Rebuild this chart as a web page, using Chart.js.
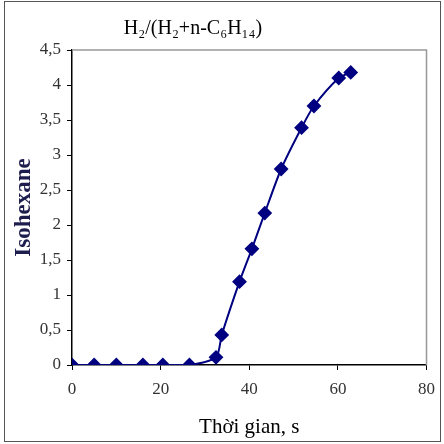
<!DOCTYPE html>
<html lang="vi">
<head>
    <meta charset="UTF-8">
    <title>Isohexane</title>
    <script src="https://cdn.jsdelivr.net/npm/chart.js"></script>
    <style>
        html, body { margin: 0; padding: 0; background: #fff; }
        #wrap { width: 444px; height: 444px; }
    </style>
</head>
<body>
    <div id="wrap"><canvas id="chart" width="444" height="444"></canvas></div>

    <script>
        // data
        const timeS = [0, 5, 10, 16, 20.5, 26.5, 32.5, 33.8, 37.8, 40.6, 43.5, 47.2, 51.8, 54.6, 60.2, 62.9];
        const isohexane = [0, 0, 0, 0, 0, 0, 0.11, 0.43, 1.19, 1.66, 2.17, 2.8, 3.39, 3.7, 4.1, 4.18];
        const xTicks = [0, 20, 40, 60, 80];
        const yTicks = [0, 0.5, 1, 1.5, 2, 2.5, 3, 3.5, 4, 4.5];

        const chartTitle = 'H₂/(H₂+n-C₆H₁₄)';
        const serif = '"Liberation Serif", "Times New Roman", serif';

        // frame around the image, plot box and title
        const decor = {
            id: 'decor',
            beforeDraw(chart) {
                const ctx = chart.ctx;
                ctx.save();
                ctx.fillStyle = '#fff';
                ctx.fillRect(0, 0, chart.width, chart.height);
                ctx.strokeStyle = '#555';
                ctx.lineWidth = 1;
                ctx.strokeRect(4.5, 1.5, 436, 440);
                ctx.restore();
            },
            afterDatasetsDraw(chart) {
                const ctx = chart.ctx;
                const a = chart.chartArea;
                ctx.save();
                ctx.strokeStyle = '#999';
                ctx.lineWidth = 1.5;
                ctx.beginPath();
                ctx.moveTo(a.left, a.top);
                ctx.lineTo(a.right, a.top);
                ctx.lineTo(a.right, a.bottom);
                ctx.stroke();
                ctx.fillStyle = '#000';
                ctx.font = '20px ' + serif;
                ctx.textAlign = 'center';
                ctx.textBaseline = 'middle';
                ctx.fillText(chartTitle, 193, 29);
                ctx.restore();
            }
        };

        new Chart(document.getElementById('chart'), {
            type: 'line',
            data: {
                datasets: [{
                    data: timeS.map((t, i) => ({ x: t, y: isohexane[i] })),
                    borderColor: '#000080',
                    backgroundColor: '#000080',
                    borderWidth: 2,
                    tension: 0.25,
                    pointStyle: 'rectRot',
                    pointRadius: 6,
                    pointHoverRadius: 6
                }]
            },
            plugins: [decor],
            options: {
                responsive: false,
                animation: false,
                layout: { padding: { left: 6, top: 50, right: 16, bottom: 0 } },
                plugins: {
                    legend: { display: false },
                    tooltip: { enabled: false }
                },
                scales: {
                    x: {
                        type: 'linear',
                        min: 0,
                        max: 80,
                        afterBuildTicks: s => { s.ticks = xTicks.map(v => ({ value: v })); },
                        afterFit: s => { s.height = 79; },
                        grid: { display: true, drawOnChartArea: false, drawTicks: true, tickLength: 5, color: '#000' },
                        border: { display: true, color: '#000', width: 1.5 },
                        ticks: {
                            color: '#333',
                            font: { family: serif, size: 17 },
                            padding: 9
                        },
                        title: {
                            display: true,
                            text: 'Thời gian, s',
                            color: '#000',
                            font: { family: serif, size: 21 },
                            padding: { top: 2 }
                        }
                    },
                    y: {
                        min: 0,
                        max: 4.5,
                        afterBuildTicks: s => { s.ticks = yTicks.map(v => ({ value: v })); },
                        afterFit: s => { s.width = 66; },
                        grid: { display: true, drawOnChartArea: false, drawTicks: true, tickLength: 5, color: '#000' },
                        border: { display: true, color: '#000', width: 1.5 },
                        ticks: {
                            color: '#333',
                            font: { family: serif, size: 17 },
                            padding: 6,
                            callback: v => String(v).replace('.', ',')
                        },
                        title: {
                            display: true,
                            text: 'Isohexane',
                            color: '#1e1e4e',
                            font: { family: serif, size: 23, weight: 'bold' },
                            padding: { bottom: 0 }
                        }
                    }
                }
            }
        });
    </script>
</body>
</html>
